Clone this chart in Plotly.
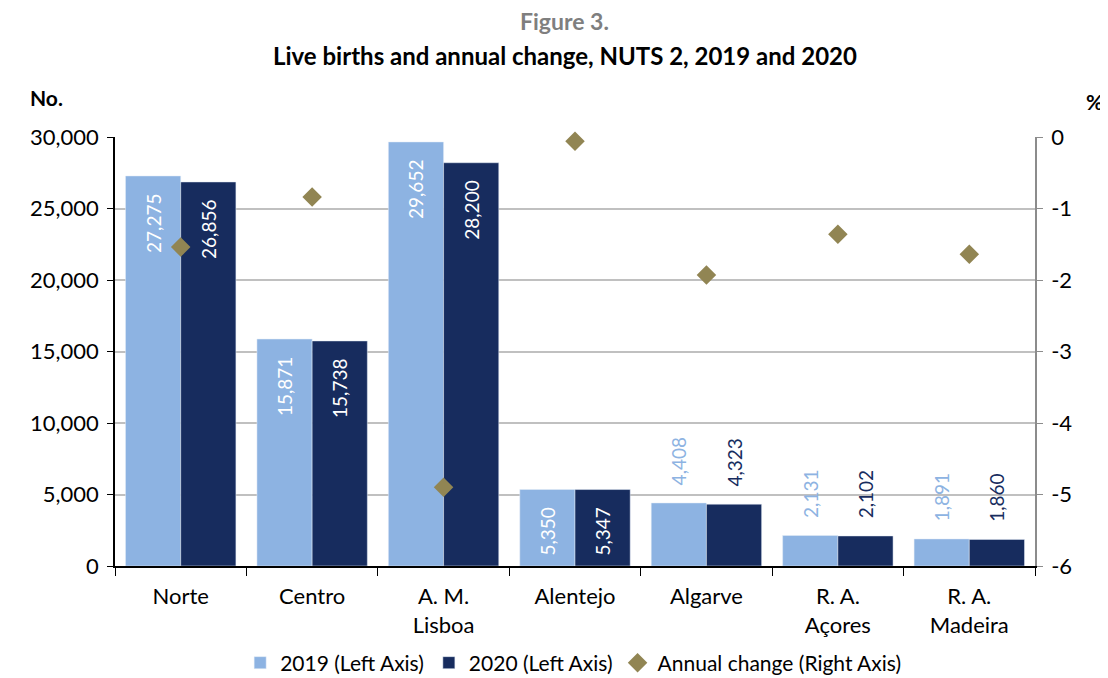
import plotly.graph_objects as go

REGIONS = ['Norte', 'Centro', 'A. M.<br>Lisboa', 'Alentejo', 'Algarve',
           'R. A.<br>Açores', 'R. A.<br>Madeira']
BIRTHS_2019 = [27275, 15871, 29652, 5350, 4408, 2131, 1891]
BIRTHS_2020 = [26856, 15738, 28200, 5347, 4323, 2102, 1860]
ANNUAL_CHANGE = [-1.54, -0.84, -4.90, -0.06, -1.93, -1.36, -1.64]
RIGHT_TICKS = [-6, -5, -4, -3, -2, -1, 0]

LIGHT_BLUE = '#8DB3E2'
NAVY = '#172C5E'
OLIVE = '#918553'
FONT = 'Lato'
PAD = '\u00a0\u00a0\u00a0'

# labels go inside the bar when tall enough, otherwise above it in bar colour
POS_2019 = ['inside', 'inside', 'inside', 'inside', 'outside', 'outside', 'outside']
POS_2020 = ['inside', 'inside', 'inside', 'inside', 'outside', 'outside', 'outside']


def labels(values, positions):
    out = []
    for v, p in zip(values, positions):
        if p == 'inside':
            out.append(f'{v:,}' + PAD)
        else:
            out.append(PAD + f'{v:,}')
    return out


fig = go.Figure()
fig.add_trace(go.Bar(
    x=REGIONS, y=BIRTHS_2019, name='2019 (Left Axis)',
    marker=dict(color=LIGHT_BLUE),
    text=labels(BIRTHS_2019, POS_2019), textposition=POS_2019,
    textangle=-90, insidetextanchor='end', constraintext='none',
    insidetextfont=dict(color='white', size=19, family=FONT),
    outsidetextfont=dict(color=LIGHT_BLUE, size=19, family=FONT),
    cliponaxis=False,
))
fig.add_trace(go.Bar(
    x=REGIONS, y=BIRTHS_2020, name='2020 (Left Axis)',
    marker=dict(color=NAVY),
    text=labels(BIRTHS_2020, POS_2020), textposition=POS_2020,
    textangle=-90, insidetextanchor='end', constraintext='none',
    insidetextfont=dict(color='white', size=19, family=FONT),
    outsidetextfont=dict(color=NAVY, size=19, family=FONT),
    cliponaxis=False,
))
fig.add_trace(go.Scatter(
    x=REGIONS, y=ANNUAL_CHANGE, name='Annual change (Right Axis)',
    mode='markers', yaxis='y2',
    marker=dict(symbol='diamond', size=15, color=OLIVE),
    cliponaxis=False,
))

# page body adds an 8px margin, so the figure is 8px smaller than the window
fig.update_layout(
    width=1100, height=670,
    paper_bgcolor='white', plot_bgcolor='white',
    font=dict(family=FONT, size=22, color='black'),
    margin=dict(l=107, r=73, t=129, b=112),
    barmode='group', bargap=0.16, bargroupgap=0,
    xaxis=dict(
        showline=True, linecolor='black', linewidth=1.5,
        ticks='outside', tickson='boundaries', ticklen=8, tickcolor='black',
        showgrid=False, tickfont=dict(size=22), automargin=False,
        ticklabelstandoff=10,
    ),
    yaxis=dict(
        range=[0, 30000], dtick=5000, tickformat=',',
        showline=True, linecolor='black', linewidth=1.5,
        ticks='outside', ticklen=6, tickcolor='black',
        showgrid=True, gridcolor='#C0C0C0', gridwidth=1.5,
        zeroline=False, tickfont=dict(size=22), automargin=False,
        ticklabelstandoff=4,
    ),
    yaxis2=dict(
        overlaying='y', side='right', range=[-6, 0],
        tickvals=RIGHT_TICKS, ticktext=[str(t) for t in RIGHT_TICKS],
        showline=True, linecolor='#8C8C8C', linewidth=1.5,
        ticks='outside', ticklen=6, tickcolor='#8C8C8C',
        showgrid=False, zeroline=False, tickfont=dict(size=22),
        automargin=False, ticklabelstandoff=4,
    ),
    legend=dict(
        orientation='h', x=0.498, xanchor='center',
        yref='container', y=0.0224, yanchor='middle',
        font=dict(size=21), itemwidth=30, tracegroupgap=0,
    ),
    annotations=[
        dict(text='<b>Figure 3.</b>', xref='paper', yref='paper',
             x=0.489, y=1.27, xanchor='center', yanchor='middle',
             showarrow=False, font=dict(size=23, color='#7F7F7F')),
        dict(text='<b>Live births and annual change, NUTS 2, 2019 and 2020</b>',
             xref='paper', yref='paper', x=0.489, y=1.189,
             xanchor='center', yanchor='middle', showarrow=False,
             font=dict(size=24)),
        dict(text='<b>No.</b>', xref='paper', yref='paper', x=-0.095, y=1.091,
             xanchor='left', yanchor='middle', showarrow=False,
             font=dict(size=21)),
        dict(text='<b>%</b>', xref='paper', yref='paper', x=1.065, y=1.082,
             xanchor='center', yanchor='middle', showarrow=False,
             font=dict(size=21)),
    ],
)

fig.write_html('out.html')
